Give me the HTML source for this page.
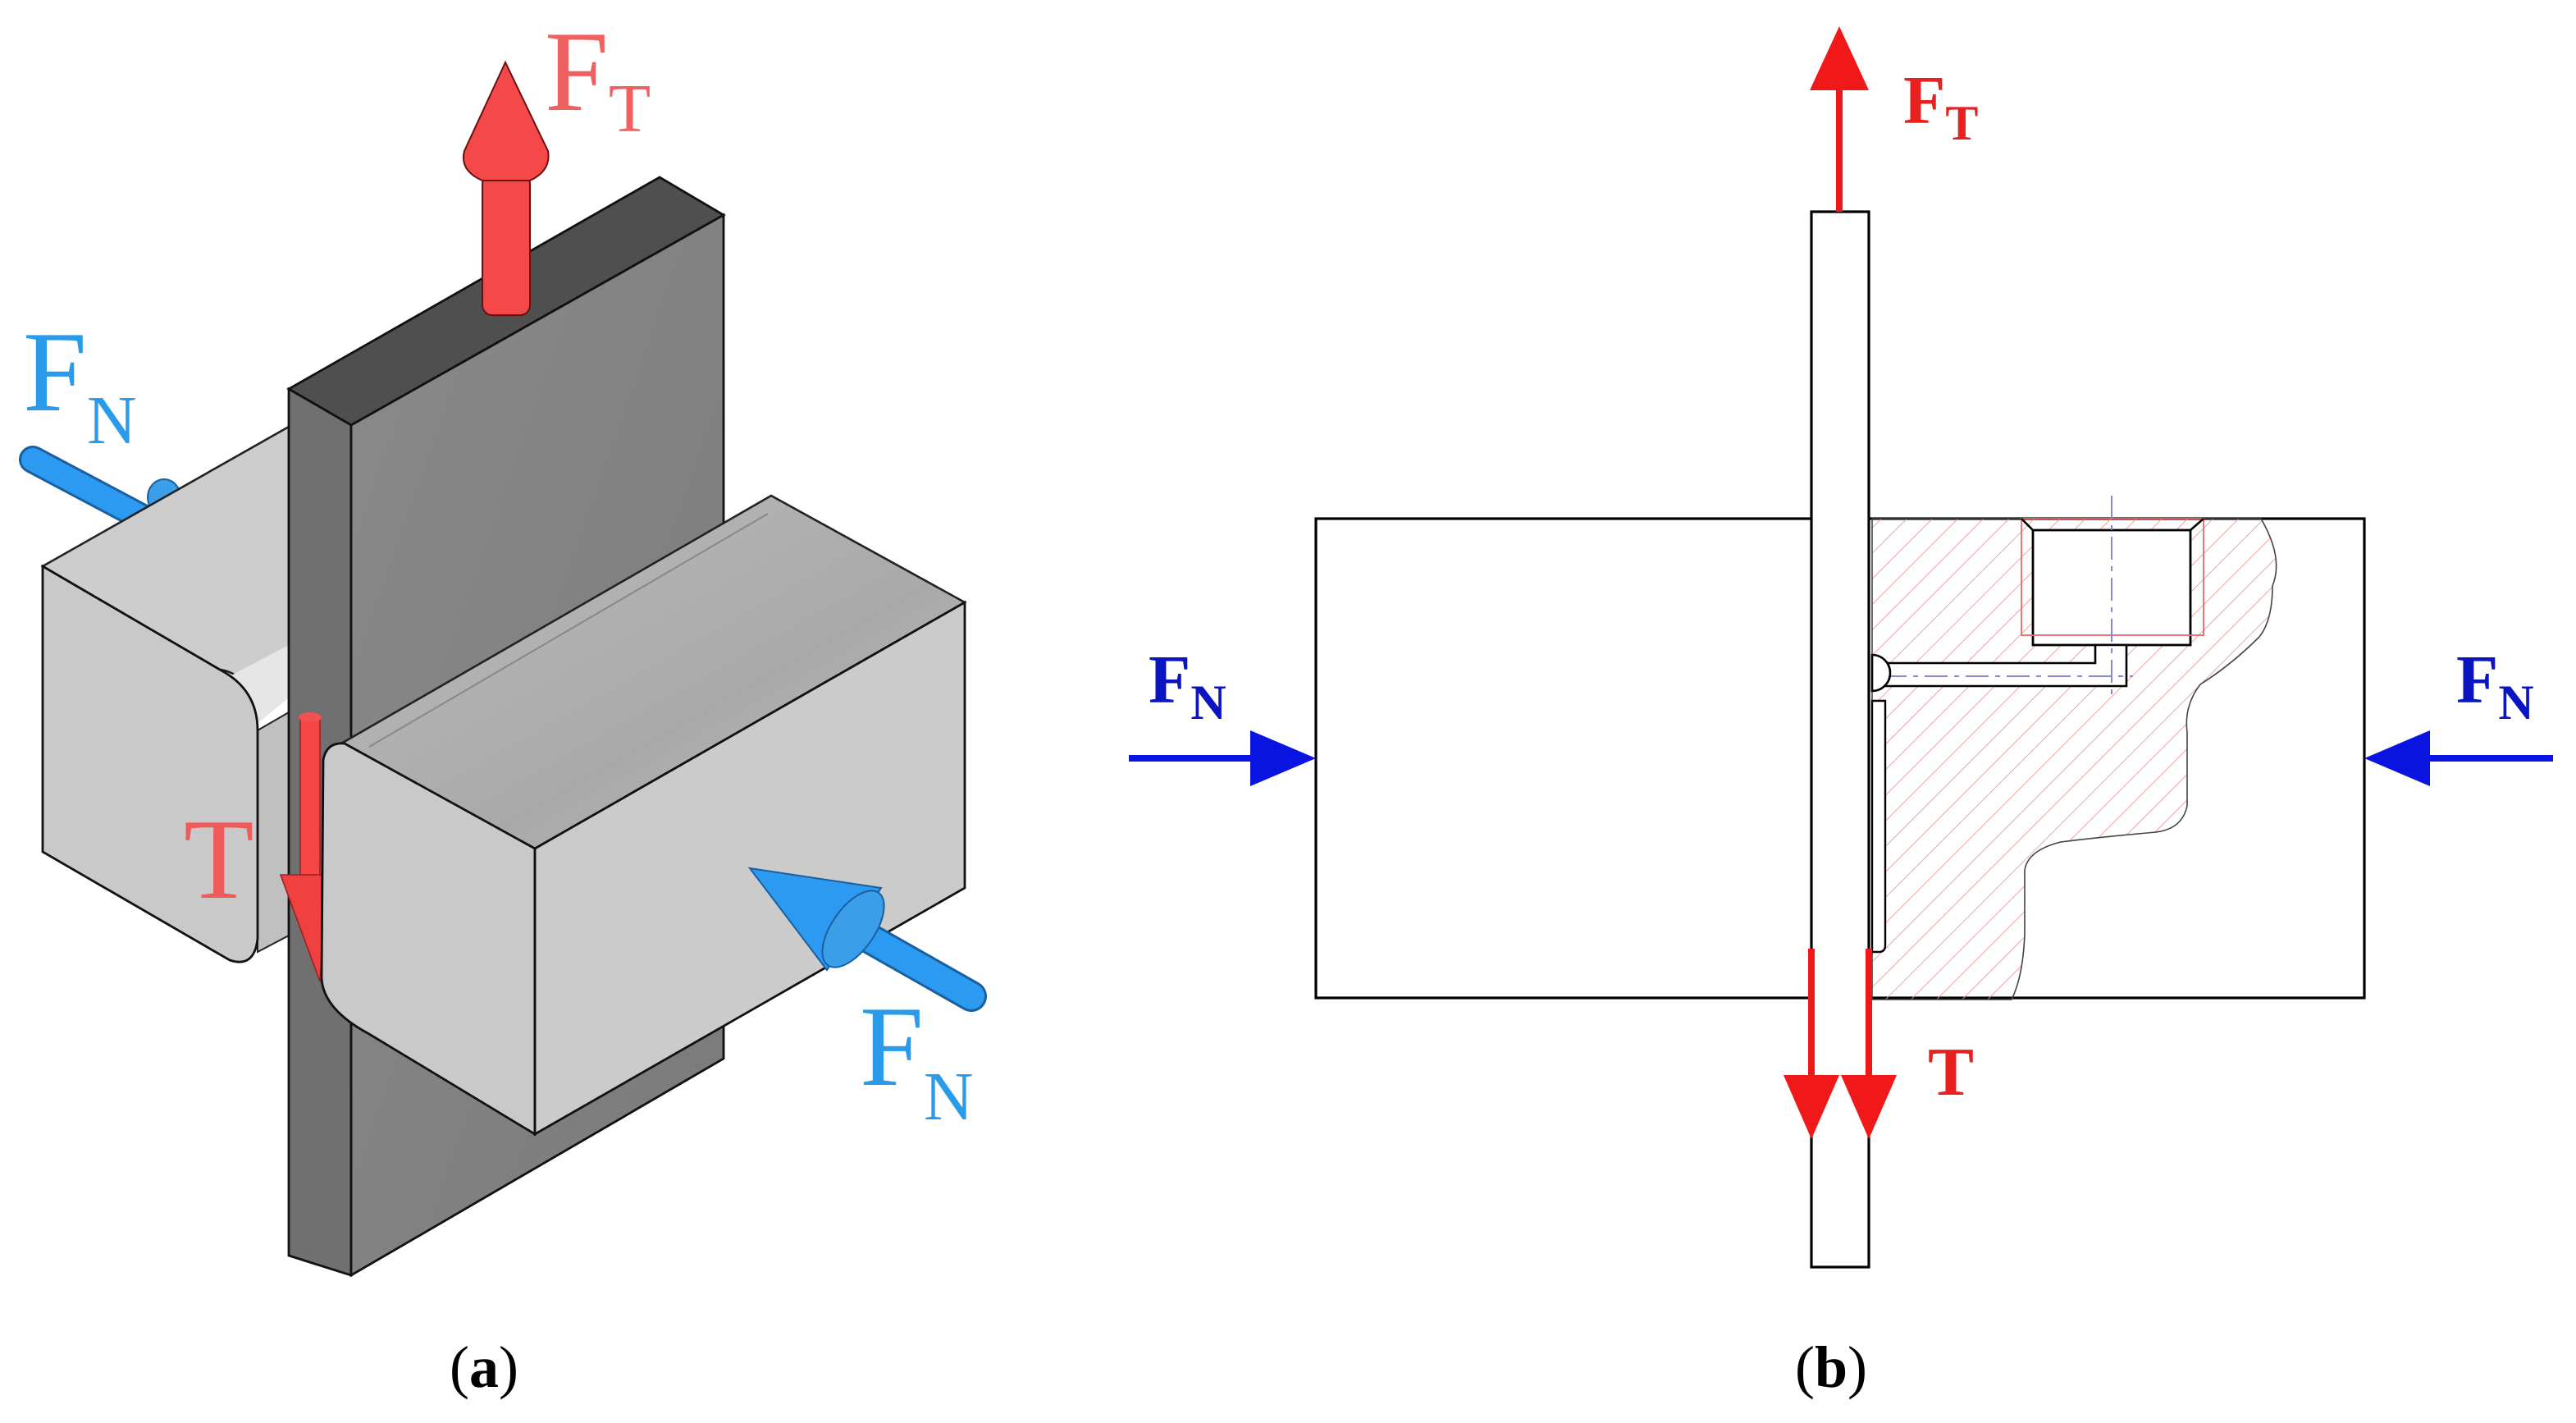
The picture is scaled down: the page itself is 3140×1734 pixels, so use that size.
<!DOCTYPE html>
<html><head><meta charset="utf-8"><style>
html,body{margin:0;padding:0;background:#fff;}
svg{display:block;}
text{font-family:"Liberation Serif",serif;}
</style></head><body>
<svg width="3140" height="1734" viewBox="0 0 1570 867" xmlns="http://www.w3.org/2000/svg">
<defs>
<pattern id="h" width="11" height="11" patternUnits="userSpaceOnUse" patternTransform="rotate(45)">
<line x1="0" y1="0" x2="0" y2="11" stroke="#e99" stroke-width="0.9"/>
</pattern>
<linearGradient id="pl" x1="0" y1="0" x2="1" y2="1"><stop offset="0" stop-color="#8a8a8a"/><stop offset="1" stop-color="#7a7a7a"/></linearGradient>
<linearGradient id="tp" x1="0" y1="0" x2="1" y2="1"><stop offset="0" stop-color="#bdbdbd"/><stop offset="0.6" stop-color="#a9a9a9"/><stop offset="1" stop-color="#c4c4c4"/></linearGradient>
</defs>

<!-- ===== (a) ===== -->
<ellipse cx="100" cy="303" rx="10" ry="11" fill="#3a9ee8" stroke="#1a5fa0" stroke-width="1"/>
<line x1="20" y1="280" x2="86" y2="315" stroke="#1a5fa0" stroke-width="17" stroke-linecap="round"/>
<line x1="20" y1="280" x2="86" y2="315" stroke="#2b9af0" stroke-width="14" stroke-linecap="round"/>
<path d="M26,345 L176,260 L176,398 L157,432 Q150,410 134,408 Z" fill="#cdcdcd" stroke="#222" stroke-width="1.3"/>
<polygon points="140,412 176,393 176,425 158,440" fill="#e6e6e6"/>
<polygon points="157,445 176,434 176,570 157,580" fill="#c0c0c0" stroke="#222" stroke-width="1"/>
<path d="M26,345 L134,408 Q157,420 157,445 L157,572 Q155,590 140,585 L26,519 Z" fill="#c9c9c9" stroke="#111" stroke-width="1.4"/>
<polygon points="176,237 402,108 441,131 214,259" fill="#4f4f4f" stroke="#111" stroke-width="1.4"/>
<polygon points="176,237 214,259 214,777 176,765" fill="#707070" stroke="#111" stroke-width="1.4"/>
<polygon points="214,259 441,131 441,645 214,777" fill="url(#pl)" stroke="#111" stroke-width="1.4"/>
<rect x="183" y="437" width="12" height="100" fill="#f54545" stroke="#a02020" stroke-width="0.8"/>
<ellipse cx="189" cy="437" rx="7" ry="3" fill="#f35050"/>
<polygon points="171,533 200,533 195,598" fill="#f04040" stroke="#a02020" stroke-width="0.8"/>
<polygon points="208,453 470,302 588,367 326,517" fill="url(#tp)" stroke="#222" stroke-width="1.3"/>
<line x1="225" y1="455" x2="468" y2="313" stroke="#888" stroke-width="1"/>
<path d="M197,463 Q199,452 210,453 L326,517 L326,691 L225,630 Q197,615 196,596 Z" fill="#c9c9c9" stroke="#111" stroke-width="1.4"/>
<polygon points="326,517 588,367 588,541 326,691" fill="#cbcbcb" stroke="#111" stroke-width="1.4"/>
<text x="112" y="547" font-size="70" fill="#f05a5a">T</text>
<rect x="294" y="106" width="29" height="86" rx="6" fill="#f54848" stroke="#6a1010" stroke-width="1"/>
<path d="M308,38 L283,92 Q280,104 294,110 L323,110 Q336,104 334,92 Z" fill="#f54848" stroke="#6a1010" stroke-width="1"/>
<text x="332" y="67" font-size="70" fill="#f06060">F<tspan font-size="42" dy="13">T</tspan></text>
<line x1="518" y1="565" x2="592" y2="607" stroke="#1a5fa0" stroke-width="19" stroke-linecap="round"/>
<line x1="518" y1="565" x2="592" y2="607" stroke="#2b9af0" stroke-width="16" stroke-linecap="round"/>
<polygon points="457,529 537,541 504,591" fill="#2b9af0" stroke="#1a5fa0" stroke-width="1"/>
<ellipse cx="520" cy="566" rx="13" ry="27" transform="rotate(35 520 566)" fill="#3a9ee8" stroke="#1a5fa0" stroke-width="1"/>
<text x="14" y="250" font-size="70" fill="#2a9aea">F<tspan font-size="42" dy="20">N</tspan></text>
<text x="524" y="661" font-size="70" fill="#2a9aea">F<tspan font-size="42" dy="21">N</tspan></text>
<text x="274" y="845" font-size="36" fill="#000">(<tspan font-weight="bold">a</tspan>)</text>

<!-- ===== (b) ===== -->
<rect x="802" y="316" width="639" height="292" fill="#fff" stroke="#000" stroke-width="1.6"/>
<path d="M1141,316 L1378,316 Q1392,340 1385,357 Q1385,378 1377,388 Q1360,405 1341,417 Q1331,430 1333,446 L1333,491 Q1330,505 1314,507 Q1280,510 1256,513 Q1236,518 1234,530 L1234,569 Q1233,595 1226,609 L1141,609 Z" fill="url(#h)" stroke="#444" stroke-width="0.8"/>
<rect x="1239" y="323" width="96" height="70" fill="#fff" stroke="#000" stroke-width="1.4"/>
<rect x="1232" y="316" width="111" height="71" fill="none" stroke="#e66" stroke-width="0.9"/>
<line x1="1232" y1="316" x2="1239" y2="323" stroke="#000" stroke-width="1.3"/>
<line x1="1343" y1="316" x2="1335" y2="323" stroke="#000" stroke-width="1.3"/>
<path d="M1141,404 L1277,404 L1277,393 L1296,393 L1296,418 L1141,418" fill="#fff" stroke="#000" stroke-width="1.3"/>
<line x1="1287" y1="302" x2="1287" y2="427" stroke="#88c" stroke-width="1" stroke-dasharray="14,4,3,4"/>
<line x1="1148" y1="412" x2="1300" y2="412" stroke="#88c" stroke-width="1" stroke-dasharray="14,4,3,4"/>
<path d="M1141,399 A11,11 0 0 1 1141,421 Z" fill="#fff" stroke="#000" stroke-width="1.3"/>
<path d="M1141,427 L1149,427 L1149,576 Q1149,580 1145,580 L1141,580 Z" fill="#fff" stroke="#000" stroke-width="1.2"/>
<rect x="1104" y="129" width="35" height="643" fill="#fff" stroke="#000" stroke-width="1.6"/>
<line x1="1121" y1="129" x2="1121" y2="50" stroke="#f01818" stroke-width="4"/>
<polygon points="1121,16 1103,55 1139,55" fill="#f01818"/>
<text x="1160" y="75" font-size="42" font-weight="bold" fill="#e82020">F<tspan font-size="30" dy="10">T</tspan></text>
<line x1="1104" y1="578" x2="1104" y2="660" stroke="#f01818" stroke-width="4"/>
<polygon points="1104,694 1087,655 1121,655" fill="#f01818"/>
<line x1="1139" y1="578" x2="1139" y2="660" stroke="#f01818" stroke-width="4"/>
<polygon points="1139,694 1122,655 1156,655" fill="#f01818"/>
<text x="1175" y="667" font-size="42" font-weight="bold" fill="#e82020">T</text>
<line x1="688" y1="462" x2="770" y2="462" stroke="#0a14e0" stroke-width="4"/>
<polygon points="802,462 762,445 762,479" fill="#0a14e0"/>
<text x="700" y="428" font-size="42" font-weight="bold" fill="#0a14c0">F<tspan font-size="30" dy="10">N</tspan></text>
<line x1="1556" y1="462" x2="1475" y2="462" stroke="#0a14e0" stroke-width="4"/>
<polygon points="1441,462 1481,445 1481,479" fill="#0a14e0"/>
<text x="1497" y="428" font-size="42" font-weight="bold" fill="#0a14c0">F<tspan font-size="30" dy="10">N</tspan></text>
<text x="1094" y="845" font-size="36" fill="#000">(<tspan font-weight="bold">b</tspan>)</text>
</svg>
</body></html>
